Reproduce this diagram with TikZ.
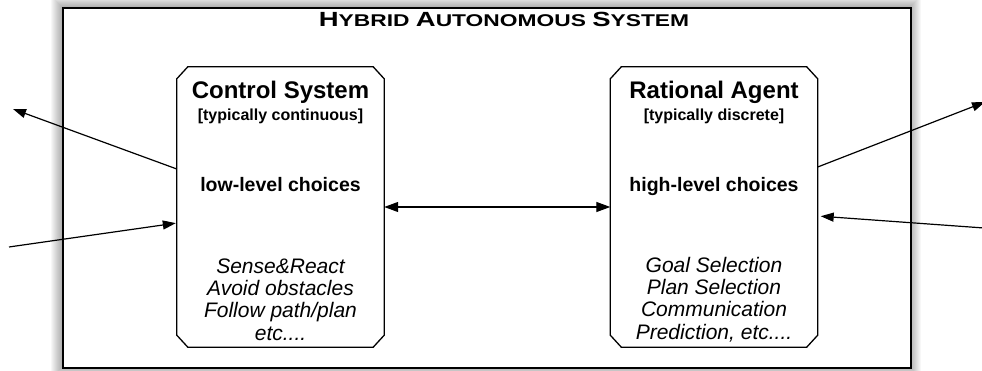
\documentclass[tikz,border=0pt]{standalone}
\usepackage{fontspec}
\setmainfont{Liberation Sans}
\usetikzlibrary{arrows.meta}
\begin{document}
\begin{tikzpicture}[x=1pt,y=-1pt,
  sysbox/.style={draw=none, fill=white, rectangle,
    inner sep=0pt, minimum width=207pt, minimum height=280pt},
  boxline/.style={line width=1.3pt, line join=miter},
  headtxt/.style={anchor=base, font=\bfseries\fontsize{24}{28}\selectfont},
  subtxt/.style={anchor=base, font=\bfseries\fontsize{16}{19}\selectfont},
  choicetxt/.style={anchor=base, font=\bfseries\fontsize{19.5}{23}\selectfont},
  listtxt/.style={anchor=center, align=center, font=\itshape\fontsize{21}{22.4}\selectfont},
  arr/.style={line width=1.2pt, -{Triangle[length=13pt,width=9pt]}},
  dblarr/.style={line width=1.2pt, {Triangle[length=14pt,width=10pt]}-{Triangle[length=14pt,width=10pt]}}
]
\useasboundingbox (0,0) rectangle (982,371);
% halo shadow of the outer frame
\foreach \i in {1,...,11}
  \fill[black, opacity=0.03] ({62-\i},{7-\i}) rectangle ({910+\i},{367+\i});
\node[draw, line width=2pt, fill=white, inner sep=0pt, anchor=north west,
  minimum width=848pt, minimum height=360pt] (hyb) at (62,7) {};
\node[anchor=base, font=\bfseries] (title) at (504,27)
  {\scalebox{1.34}[1]{\fontsize{20.5}{24}\selectfont H\fontsize{17}{20}\selectfont YBRID
   \fontsize{20.5}{24}\selectfont A\fontsize{17}{20}\selectfont UTONOMOUS
   \fontsize{20.5}{24}\selectfont S\fontsize{17}{20}\selectfont YSTEM}};

% boxes
\node[sysbox] (cs) at (280.5,207) {};
\node[sysbox] (ra) at (714,207) {};
\foreach \b in {cs,ra}
  \draw[boxline] ([xshift=11pt]\b.north west) -- ([xshift=-11pt]\b.north east)
    -- ([yshift=-12pt]\b.north east) -- ([yshift=12pt]\b.south east)
    -- ([xshift=-11pt]\b.south east) -- ([xshift=11pt]\b.south west)
    -- ([yshift=12pt]\b.south west) -- ([yshift=-12pt]\b.north west) -- cycle;

% control system texts
\node[headtxt] (csh) at (280.5,99) {Control System};
\node[subtxt] (css) at (280.5,121) {[typically continuous]};
\node[choicetxt] (csc) at (280.5,192) {low-level choices};
\node[listtxt] (csl) at (280.5,299.5) {Sense\&React\\Avoid obstacles\\Follow path/plan\\etc....};

% rational agent texts
\node[headtxt] (rah) at (714,99) {Rational Agent};
\node[subtxt] (ras) at (714,121) {[typically discrete]};
\node[choicetxt] (rac) at (714,192) {high-level choices};
\node[listtxt] (ral) at (714,299.5) {Goal Selection\\Plan Selection\\Communication\\Prediction, etc....};

% free ends
\coordinate (outL) at (13,109);
\coordinate (inL) at (9,247);
\coordinate (outR) at (985,102);
\coordinate (inR) at (984,228);
\coordinate (y169) at (0,169);
\coordinate (y223) at (0,223);
\coordinate (y167) at (0,167);
\coordinate (y216) at (0,216);

% connectors
\draw[dblarr] (cs.east) -- (ra.west);
\draw[arr] (cs.west |- y169) -- (outL);
\draw[arr, shorten >=1pt] (inL) -- (cs.west |- y223);
\draw[arr] (ra.east |- y167) -- (outR);
\draw[arr, shorten >=3pt] (inR) -- (ra.east |- y216);
\end{tikzpicture}
\end{document}
